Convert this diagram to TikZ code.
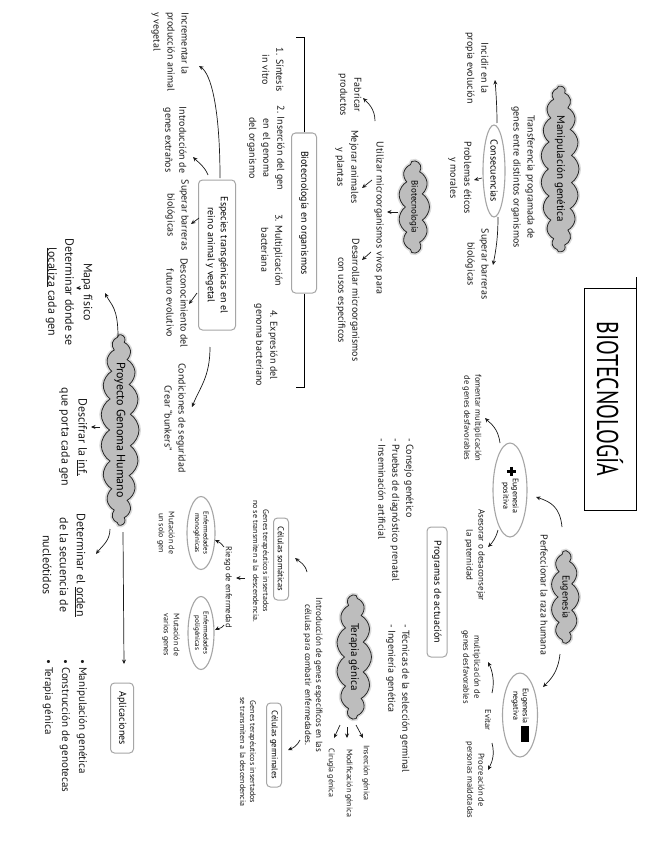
\documentclass[tikz,border=0pt]{standalone}
\usepackage{fontspec}
\setmainfont{PT Sans}
\usepackage{graphicx}
\usepackage{tikz}
\usetikzlibrary{positioning,arrows.meta,shapes.geometric,shapes.symbols,calc}
\definecolor{cnube}{HTML}{BDBDBD}
\definecolor{cborde}{HTML}{A6A6A6}
\definecolor{ctinta}{HTML}{1A1A1A}
\newcommand{\signomas}{\makebox[9pt][l]{\rule[1.75pt]{9pt}{3pt}\hspace{-6pt}\rule[-1.25pt]{3pt}{9pt}}}
\tikzset{
  texto/.style={rotate=-90, align=center, inner sep=1pt, text=ctinta,
    font=\fontsize{10}{14}\selectfont},
  textoc/.style={texto, font=\fontsize{8}{10}\selectfont},
  textog/.style={texto, font=\fontsize{12}{17}\selectfont},
  nube/.style={cloud, cloud puffs=17, cloud puff arc=115, cloud ignores aspect,
    rotate=-90, draw=black!85, fill=cnube, line width=0.8pt, align=center, inner sep=0pt,
    preaction={draw=cnube!55, line width=4pt}},
  elipse/.style={ellipse, rotate=-90, draw=cborde, line width=1.1pt, inner sep=0pt,
    align=center},
  caja/.style={rectangle, rotate=-90, rounded corners=4pt, draw=cborde, line width=1pt,
    inner sep=0pt, align=center, font=\fontsize{10}{13}\selectfont},
  titulo/.style={rectangle, rotate=-90, draw=black, line width=1pt,
    font=\fontsize{30}{30}\selectfont},
  flecha/.style={-{Stealth[length=4.5pt,width=4pt]}, line width=0.7pt, draw=ctinta},
}
\begin{document}
\begin{tikzpicture}[x=1pt,y=-1pt]
  \fill[white] (0,0) rectangle (645,848);
  \useasboundingbox (0,0) rectangle (645,848);

  \node[titulo, minimum width=222pt, minimum height=52pt] (titulo) at (610,399)
    {\scalebox{0.72}[1]{BIOTECNOLOGÍA}};
  \draw[line width=1pt] (titulo.north west) -- ++(0,-11);

  \node[nube, cloud puffs=19, minimum width=166pt, minimum height=38pt, font=\fontsize{11}{13}\selectfont] (manip) at (560,169) {Manipulación genética};
  \node[nube, cloud puffs=11, minimum width=92pt, minimum height=31pt, font=\fontsize{9}{11}\selectfont] (biotec) at (414,207) {Biotecnología};
  \node[nube, cloud puffs=19, minimum width=184pt, minimum height=38pt, font=\fontsize{12}{14}\selectfont] (genoma) at (120,430) {Proyecto Genoma Humano};
  \node[nube, cloud puffs=13, minimum width=124pt, minimum height=35pt, font=\fontsize{11}{13}\selectfont] (terapia) at (354,657) {Terapia génica};
  \node[nube, cloud puffs=11, minimum width=92pt, minimum height=28pt, font=\fontsize{10}{12}\selectfont] (eug) at (565,597) {Eugenesia};

  \node[elipse, minimum width=92pt, minimum height=22pt, font=\fontsize{10}{12}\selectfont] (cons) at (494,171) {Consecuencias};
  \node[elipse, minimum width=94pt, minimum height=34pt, font=\fontsize{8}{9.5}\selectfont] (positiva) at (510,490)
    {\signomas\ \begin{tabular}{@{}c@{}}Eugenesia\\positiva\end{tabular}};
  \node[elipse, minimum width=84pt, minimum height=35pt, font=\fontsize{8}{9.5}\selectfont] (negativa) at (520,715)
    {\begin{tabular}{@{}c@{}}Eugenesia\\negativa\end{tabular}\ \rule[3pt]{16pt}{8pt}};
  \node[elipse, minimum width=73pt, minimum height=28pt, font=\fontsize{7}{8.5}\selectfont] (mono) at (201,533) {Enfermedades\\monogénicas};
  \node[elipse, minimum width=73pt, minimum height=26pt, font=\fontsize{7}{8.5}\selectfont] (poli) at (201,633) {Enfermedades\\poligénicas};

  \node[caja, minimum width=160pt, minimum height=25pt] (organismos) at (304,213) {Biotecnología en organismos};
  \node[caja, minimum width=150pt, minimum height=37pt] (especies) at (217,255) {Especies transgénicas en el\\reino animal y vegetal};
  \node[caja, minimum width=130pt, minimum height=20pt] (programas) at (437,592) {Programas de actuación};
  \node[caja, minimum width=82pt, minimum height=15pt, font=\fontsize{8.5}{10}\selectfont] (somaticas) at (281,559) {Células somáticas};
  \node[caja, minimum width=84pt, minimum height=15pt, font=\fontsize{8.5}{10}\selectfont] (germinales) at (274,745) {Células germinales};
  \node[caja, minimum width=70pt, minimum height=23pt] (aplicaciones) at (122,718) {Aplicaciones};

  \node[texto] (transf) at (523,177) {Transferencia programada de\\genes entre distintos organismos};
  \node[texto] (incidir) at (477,68) {Incidir en la\\propia evolución};
  \node[texto] (problemas) at (460,178) {Problemas éticos\\y morales};
  \node[texto] (superar1) at (477,264) {Superar barreras\\biológicas};
  \node[texto] (utilizar) at (379,218) {Utilizar microorganismos vivos para};
  \node[texto] (fabricar) at (350,95) {Fabricar\\productos};
  \node[texto] (mejorar) at (347,167) {Mejorar animales\\y plantas};
  \node[texto] (desarrollar) at (348,300) {Desarrollar microorganismos\\con usos específicos};
  \node[texto] (paso1) at (273,70) {1. Síntesis\\in vitro};
  \node[texto] (paso2) at (266,148) {2. Inserción del gen\\en el genoma\\del organismo};
  \node[texto] (paso3) at (272,250) {3. Multiplicación\\bacteriana};
  \node[texto] (paso4) at (266,345) {4. Expresión del\\genoma bacteriano};
  \node[texto, align=left] (incrementar) at (170,52) {Incrementar la\\producción animal\\y vegetal};
  \node[texto] (introduccion) at (175,140) {Introducción de\\genes extraños};
  \node[texto] (superar2) at (177,215) {Superar barreras\\biológicas};
  \node[texto] (desconocimiento) at (177,303) {Desconocimiento del\\futuro evolutivo};
  \node[texto] (condiciones) at (175,418) {Condiciones de seguridad\\Crear “bunkers”};
  \node[textog] (mapa) at (87,292) {Mapa físico};
  \node[textog] (determinar1) at (60,292) {Determinar dónde se\\\underline{localiza} cada gen};
  \node[textog] (descifrar) at (73,437) {Descifrar la \underline{inf.}\\que porta cada gen};
  \node[textog] (determinar2) at (64,565) {Determinar el \underline{orden}\\de la secuencia de\\nucleótidos};
  \node[textog, align=left, anchor=west, font=\fontsize{11}{17}\selectfont] (usos) at (65,658)
    {• Manipulación genética\\• Construcción de genotecas\\• Terapia génica};
  \node[texto, align=left, anchor=west] (tecnicas) at (398,623) {- Técnicas de la selección germinal\\- Ingeniería genética};
  \node[texto, align=left, anchor=west] (consejo) at (396,437) {- Consejo genético\\- Pruebas de diagnóstico prenatal\\- Inseminación artificial};
  \node[textoc, font=\fontsize{8.5}{11}\selectfont] (fomentar) at (472,418) {fomentar multiplicación\\de genes desfavorables};
  \node[textoc, font=\fontsize{9}{12}\selectfont] (asesorar) at (475,555) {Asesorar o desaconsejar\\la paternidad};
  \node[texto] (perfeccionar) at (544,595) {Perfeccionar la raza humana};
  \node[textoc, font=\fontsize{8.5}{11}\selectfont] (evitar) at (488,720) {Evitar};
  \node[textoc, font=\fontsize{8.5}{11}\selectfont] (multiplicacion) at (471,667) {multiplicación de\\genes desfavorables};
  \node[textoc, font=\fontsize{8.5}{11}\selectfont] (procreacion) at (475,780) {Procreación de\\personas maldotadas};
  \node[textoc, font=\fontsize{9}{11}\selectfont] (introterapia) at (313,675) {Introducción de genes específicos en las\\células para combatir enfermedades.};
  \node[textoc] (insercion) at (366,773) {Inserción génica};
  \node[textoc] (modificacion) at (349,783) {Modificación génica};
  \node[textoc] (cirugia) at (331,773) {Cirugía génica};
  \node[textoc] (genesom) at (261,561) {Genes terapéuticos insertados\\no se transmiten a la descendencia.};
  \node[textoc, font=\fontsize{8.5}{10}\selectfont] (riesgo) at (228,587) {Riesgo de enfermedad};
  \node[textoc] (mutacion1) at (166,533) {Mutación de\\un solo gen};
  \node[textoc] (mutacion2) at (171,635) {Mutación de\\varios genes};
  \node[textoc] (genesgerm) at (248,752) {Genes terapéuticos insertados\\se transmiten a la descendencia};

  \draw[line width=0.8pt] (organismos.west) -- ++(0,-95) -- ++(-8,0);
  \draw[line width=0.8pt] (organismos.east) -- ++(0,94) -- ++(-8,0);

  \draw[flecha] ($(cons)+(3,-48)$) .. controls +(0,-15) and +(1,12) .. ($(incidir)+(18,12)$);
  \draw[flecha] ($(cons)+(-12,7)$) -- ($(problemas)+(14,2)$);
  \draw[flecha] ($(cons)+(4,46)$) .. controls +(0,20) and +(3,-15) .. ($(superar1)+(16,1)$);
  \draw[flecha] ($(biotec)+(-16,5)$) -- ($(utilizar)+(8,-6)$);
  \draw[flecha] ($(utilizar)+(-4,-97)$) .. controls +(0,-12) and +(5,5) .. ($(fabricar)+(13,3)$);
  \draw[flecha] ($(utilizar)+(-7,-38)$) -- ($(mejorar)+(15,21)$);
  \draw[flecha] ($(utilizar)+(-8,34)$) -- ($(desarrollar)+(14,-40)$);
  \draw[flecha] ($(especies)+(3,-77)$) .. controls +(0,-70) and +(12,8) .. ($(incrementar)+(29,14)$);
  \draw[flecha] ($(especies)+(-9,-80)$) .. controls +(-3,-8) and +(5,5) .. ($(introduccion)+(18,17)$);
  \draw[flecha] ($(especies)+(-18,-37)$) -- ($(superar2)+(14,9)$);
  \draw[flecha] ($(especies)+(-20,38)$) -- ($(desconocimiento)+(12,1)$);
  \draw[flecha] ($(especies)+(-7,92)$) .. controls +(0,30) and +(8,-20) .. ($(condiciones)+(17,-11)$);
  \draw[flecha] ($(genoma)+(-2,-93)$) .. controls +(0,-30) and +(6,12) .. ($(mapa)+(18,1)$);
  \draw[flecha] ($(mapa)+(-6,-4)$) -- ($(determinar1)+(16,-4)$);
  \draw[flecha] ($(genoma)+(-20,-3)$) -- ($(descifrar)+(18,-10)$);
  \draw[flecha] ($(genoma)+(-10,99)$) .. controls +(0,12) and +(6,-8) .. ($(determinar2)+(32,-11)$);
  \draw[flecha] ($(genoma)+(3,102)$) -- ($(aplicaciones)+(2,-54)$);
  \draw[flecha] ($(introterapia)+(-6,-103)$) .. controls +(-2,-8) and +(5,4) .. ($(somaticas)+(14,-1)$);
  \draw[flecha] ($(genesom)+(-16,17)$) -- ($(riesgo)+(8,-9)$);
  \draw[flecha] ($(riesgo)+(-4,-40)$) .. controls +(-3,-4) and +(4,2) .. ($(mono)+(14,7)$);
  \draw[flecha] ($(riesgo)+(-4,38)$) .. controls +(-3,4) and +(4,-2) .. ($(poli)+(14,-3)$);
  \draw[flecha] ($(introterapia)+(-13,65)$) .. controls +(-3,6) and +(5,-2) .. ($(germinales)+(14,5)$);
  \draw[flecha] ($(terapia)+(2,68)$) -- ($(insercion)+(-3,-35)$);
  \draw[flecha] ($(terapia)+(-7,70)$) -- ($(modificacion)+(-2,-45)$);
  \draw[flecha] ($(terapia)+(-14,68)$) -- ($(cirugia)+(3,-35)$);
  \draw[flecha] ($(eug)+(-3,-70)$) .. controls +(-2,-20) and +(15,5) .. ($(positiva)+(26,7)$);
  \draw[flecha] ($(positiva)+(-10,-47)$) .. controls +(-2,-15) and +(6,6) .. ($(fomentar)+(13,0)$);
  \draw[flecha] ($(positiva)+(-12,40)$) .. controls +(-2,8) and +(4,-4) .. ($(asesorar)+(13,-8)$);
  \draw[flecha] ($(eug)+(-5,57)$) .. controls +(-2,18) and +(8,-8) .. ($(negativa)+(23,-28)$);
  \draw[flecha] ($(evitar)+(4,-27)$) .. controls +(3,-12) and +(4,8) .. ($(multiplicacion)+(17,-5)$);
  \draw[flecha] ($(evitar)+(4,23)$) .. controls +(3,12) and +(4,-8) .. ($(procreacion)+(13,-10)$);
\end{tikzpicture}
\end{document}
